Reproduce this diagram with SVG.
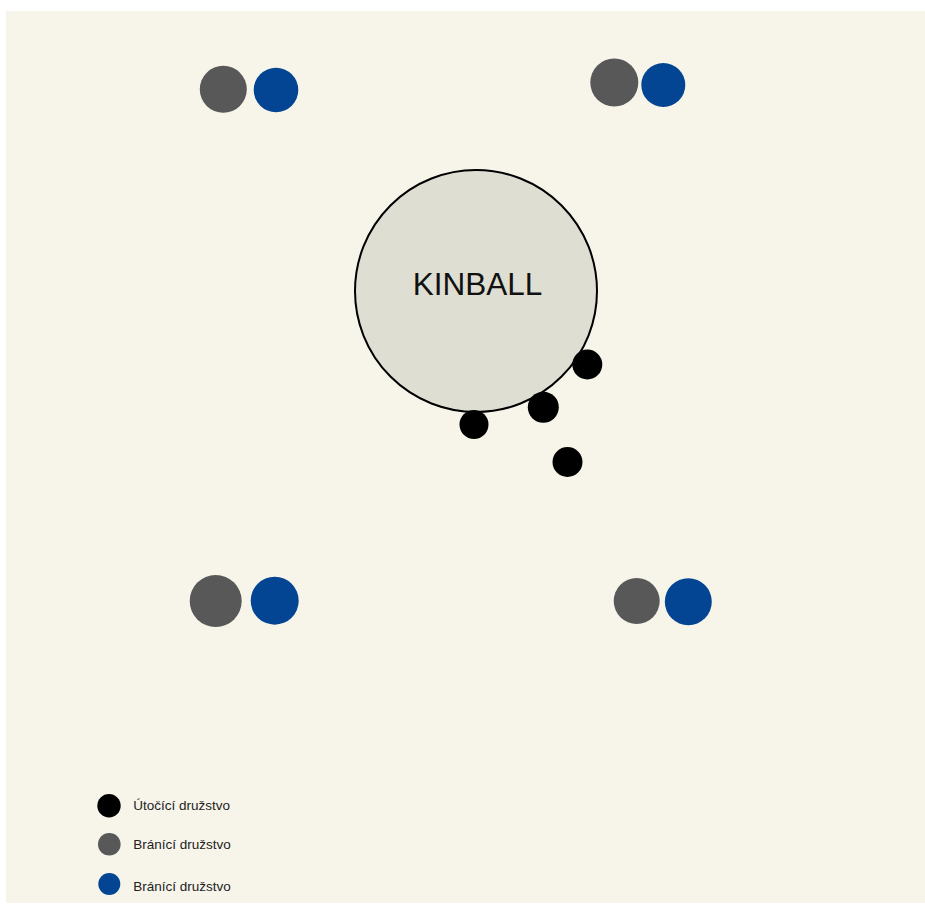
<svg xmlns="http://www.w3.org/2000/svg" width="925" height="906" viewBox="0 0 925 906">
  <style>
    .gray { fill: #585858; }
    .blue { fill: #034592; }
    .att { fill: #000000; }
    .lbl { font-family: "Liberation Sans", Arial, sans-serif; font-size: 13.5px; fill: #222222; }
    .title { font-family: "Liberation Sans", Arial, sans-serif; font-size: 31.5px; fill: #111111; text-anchor: middle; }
  </style>
  <rect x="0" y="0" width="925" height="906" fill="#ffffff"/>
  <rect x="6" y="11" width="919" height="892" fill="#f7f5ea"/>

  <g id="kinball">
    <circle cx="476" cy="291" r="121" fill="#deded3" stroke="#000000" stroke-width="2"/>
    <text class="title" x="477.5" y="295">KINBALL</text>
  </g>

  <g id="attackers">
    <circle class="att" cx="587.3" cy="364.5" r="15"/>
    <circle class="att" cx="543.3" cy="407.3" r="15.5"/>
    <circle class="att" cx="474" cy="424.5" r="14.5"/>
    <circle class="att" cx="567.5" cy="462" r="15"/>
  </g>

  <g id="pair-top-left">
    <circle class="gray" cx="223.3" cy="89.3" r="23.5"/>
    <circle class="blue" cx="276" cy="90" r="22.3"/>
  </g>
  <g id="pair-top-right">
    <circle class="gray" cx="614.3" cy="82.5" r="24"/>
    <circle class="blue" cx="663.3" cy="85" r="22"/>
  </g>
  <g id="pair-bottom-left">
    <circle class="gray" cx="215.7" cy="601" r="26"/>
    <circle class="blue" cx="274.7" cy="600.7" r="24"/>
  </g>
  <g id="pair-bottom-right">
    <circle class="gray" cx="636.7" cy="601" r="23"/>
    <circle class="blue" cx="688.3" cy="601.7" r="23.5"/>
  </g>

  <g id="legend">
    <circle class="att" cx="109" cy="805.7" r="11.7"/>
    <text class="lbl" x="133.3" y="809.5">Útočící družstvo</text>
    <circle class="gray" cx="109.3" cy="844.3" r="11.3"/>
    <text class="lbl" x="133.3" y="848.5">Bránící družstvo</text>
    <circle class="blue" cx="109.3" cy="884" r="11"/>
    <text class="lbl" x="133.3" y="891">Bránící družstvo</text>
  </g>
</svg>
